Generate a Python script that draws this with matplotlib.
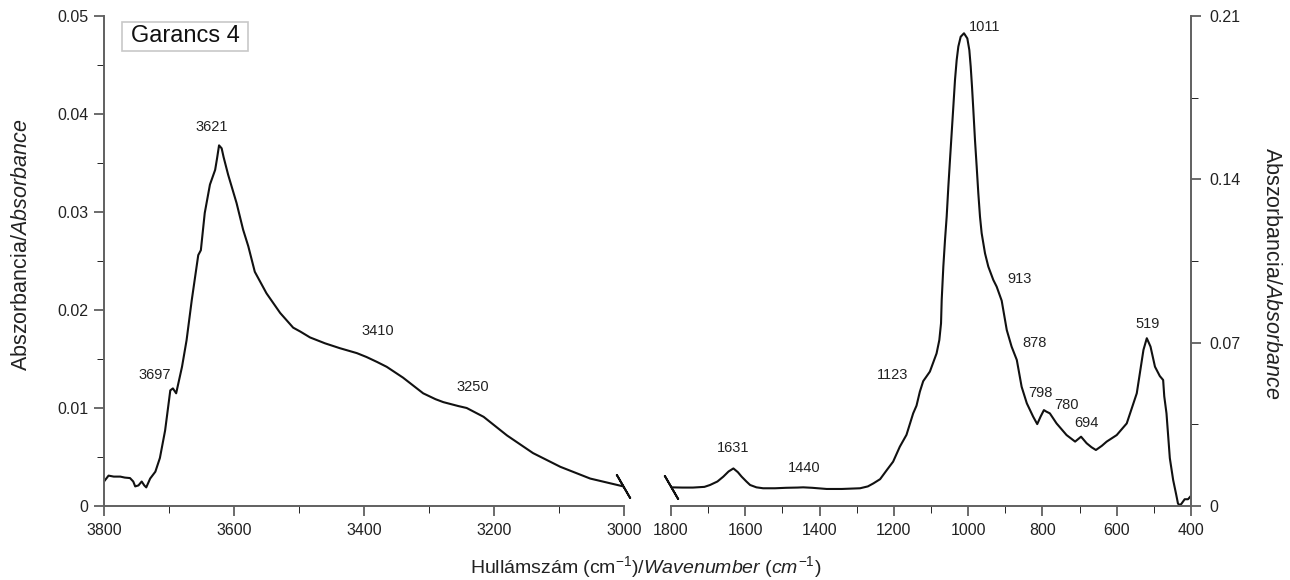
import matplotlib
matplotlib.use("Agg")
import matplotlib.pyplot as plt
from matplotlib.patches import Rectangle
from matplotlib.ticker import MultipleLocator, FixedLocator, FuncFormatter

plt.rcParams['font.family'] = ['Liberation Sans', 'DejaVu Sans']
plt.rcParams['mathtext.fontset'] = 'custom'
plt.rcParams['mathtext.rm'] = 'Liberation Sans'
plt.rcParams['mathtext.it'] = 'Liberation Sans:italic'

# ---------------- data ----------------
# High wavenumber region (left panel, left axis)
wn_high = [3800, 3793, 3785, 3775, 3768, 3760, 3755, 3752, 3747, 3742, 3738, 3735,
           3729, 3721, 3714, 3706, 3698, 3694, 3689, 3680, 3673, 3665, 3655, 3651,
           3645, 3637, 3629, 3626, 3623, 3619, 3616, 3609, 3596, 3586, 3578, 3568,
           3550, 3529, 3509, 3498, 3483, 3460, 3437, 3411, 3396, 3380, 3365, 3340,
           3309, 3290, 3278, 3255, 3242, 3216, 3180, 3140, 3098, 3052, 3001]
abs_high = [0.0025, 0.0031, 0.0030, 0.0030, 0.0029, 0.00285, 0.0025, 0.0020, 0.0021,
            0.0025, 0.0021, 0.0019, 0.0028, 0.0035, 0.0049, 0.0077, 0.0118, 0.0120,
            0.0115, 0.0142, 0.0169, 0.0210, 0.0256, 0.0261, 0.0299, 0.0328, 0.0343,
            0.0355, 0.0368, 0.0365, 0.0356, 0.0338, 0.0309, 0.0282, 0.0265, 0.0239,
            0.0217, 0.0197, 0.0182, 0.0178, 0.0172, 0.0166, 0.0161, 0.0156, 0.0152,
            0.0147, 0.0142, 0.0131, 0.0115, 0.0109, 0.0106, 0.0102, 0.0100, 0.0091,
            0.0072, 0.0054, 0.0040, 0.0028, 0.0020]

# Low wavenumber region (right panel, right axis)
wn_low = [1800, 1770, 1741, 1710, 1695, 1675, 1659, 1645, 1632, 1620, 1610, 1597,
          1587, 1570, 1552, 1520, 1490, 1460, 1444, 1420, 1381, 1340, 1291, 1270,
          1255, 1237, 1219, 1202, 1184, 1166, 1148, 1139, 1130, 1121, 1103, 1085,
          1077.6, 1073, 1071.2, 1066.8, 1062.3, 1057.8, 1053.3, 1048.9, 1044.4,
          1039.9, 1035.4, 1030.9, 1026.4, 1020.1, 1011.2, 1002.2, 996.8, 993.1,
          989.6, 986.0, 981.6, 977.0, 972.6, 968.1, 963.6, 954.6, 945.7, 932.3,
          923.2, 909.7, 896, 883, 869, 856, 842, 825, 814,
          805, 796, 790, 780, 762, 735, 712, 696, 681, 668, 656, 640, 627, 600,
          573, 546, 528, 519, 509, 497, 484, 475, 472, 466, 457, 448, 440, 435,
          430, 426, 417, 408, 402]
abs_low = [0.0080, 0.0079, 0.0079, 0.0082, 0.0090, 0.0105, 0.0126, 0.0148, 0.0161,
           0.0145, 0.0126, 0.0105, 0.0090, 0.0080, 0.0076, 0.0076, 0.0078, 0.0079,
           0.0080, 0.0078, 0.0073, 0.0073, 0.0076, 0.0084, 0.0097, 0.0115, 0.0154,
           0.0190, 0.0254, 0.0305, 0.0397, 0.0430, 0.0490, 0.0535, 0.0576, 0.0654,
           0.0711, 0.0783, 0.0883, 0.1026, 0.1140, 0.1240, 0.1369, 0.1483, 0.1597,
           0.1711, 0.1826, 0.1911, 0.1969, 0.2011, 0.2026, 0.2004, 0.1954, 0.1883,
           0.1797, 0.1697, 0.1569, 0.1454, 0.1340, 0.1240, 0.1169, 0.1083, 0.1026,
           0.0969, 0.0940, 0.0880, 0.0754, 0.0683, 0.0626, 0.0511, 0.0440, 0.0383,
           0.0351, 0.0383,
           0.0411, 0.0405, 0.0397, 0.0354, 0.0304, 0.0276, 0.0297, 0.0269, 0.0252,
           0.0240, 0.0258, 0.0276, 0.0304, 0.0354, 0.0483, 0.0669, 0.0719, 0.0683,
           0.0597, 0.0557, 0.0540, 0.0470, 0.0397, 0.0205, 0.0111, 0.0050, 0.0010,
           0.0004, 0.0009, 0.0029, 0.0029, 0.0040]

# Peak labels: text, label x (wavenumber), label y (absorbance)
labels_high = ["3697", "3621", "3410", "3250"]
labx_high = [3721.5, 3633.8, 3378.9, 3232.8]
laby_high = [0.01337, 0.0387, 0.01789, 0.01211]

labels_low = ["1631", "1440", "1123", "1011", "913", "878", "798", "780", "694", "519"]
labx_low = [1633.9, 1441.1, 1202.3, 954.6, 860.4, 821.9, 804.7, 736.5, 680.8, 516.6]
laby_low = [0.02499, 0.01616, 0.05614, 0.2054, 0.09716, 0.06999, 0.0483, 0.04329, 0.0357, 0.07788]

xticks_high = [3800, 3600, 3400, 3200, 3000]
xticks_low = [1800, 1600, 1400, 1200, 1000, 800, 600, 400]
yticks_left = [0, 0.01, 0.02, 0.03, 0.04, 0.05]
yticks_right = [0, 0.07, 0.14, 0.21]

# ---------------- figure ----------------
W, H = 1290, 580
fig = plt.figure(figsize=(W / 100, H / 100), dpi=100)
spine_col = '#606060'
line_col = '#111111'
txt_col = '#222222'

def px_axes(x0, x1, y_top, y_bot):
    return [x0 / W, 1 - y_bot / H, (x1 - x0) / W, (y_bot - y_top) / H]

axL = fig.add_axes(px_axes(104, 624, 16, 506))
axR = fig.add_axes(px_axes(671, 1191, 16, 506))

for ax in (axL, axR):
    for s in ax.spines.values():
        s.set_color(spine_col)
        s.set_linewidth(1.4)
    ax.spines['top'].set_visible(False)
    ax.tick_params(colors=spine_col, labelcolor=txt_col, labelsize=11.5,
                   width=1.3, direction='out')
    ax.tick_params(which='major', length=7)
    ax.tick_params(which='minor', length=5)
    ax.tick_params(axis='x', which='major', pad=5)

# Left panel
axL.plot(wn_high, abs_high, color=line_col, lw=1.5)
axL.set_xlim(3800, 3000)
axL.set_ylim(0, 0.05)
axL.spines['right'].set_visible(False)
axL.xaxis.set_major_locator(FixedLocator(xticks_high))
axL.xaxis.set_minor_locator(MultipleLocator(100))
axL.yaxis.set_major_locator(FixedLocator(yticks_left))
axL.yaxis.set_minor_locator(MultipleLocator(0.005))
axL.yaxis.set_major_formatter(FuncFormatter(lambda v, p: '0' if abs(v) < 1e-12 else f'{v:.2f}'))
axL.tick_params(axis='y', pad=4)

# Right panel
axR.plot(wn_low, abs_low, color=line_col, lw=1.5)
axR.set_xlim(1800, 400)
axR.set_ylim(0, 0.21)
axR.spines['left'].set_visible(False)
axR.yaxis.tick_right()
axR.xaxis.set_major_locator(FixedLocator(xticks_low))
axR.xaxis.set_minor_locator(MultipleLocator(100))
axR.yaxis.set_major_locator(FixedLocator(yticks_right))
axR.yaxis.set_minor_locator(MultipleLocator(0.035))
axR.yaxis.set_major_formatter(FuncFormatter(lambda v, p: '0' if abs(v) < 1e-12 else f'{v:.2f}'))
axR.tick_params(axis='y', pad=6)

# Break marks at the inner ends of the two curves
axL.plot([wn_high[-1]], [abs_high[-1]], marker=(2, 2, 30), ms=20, mew=1.4,
         color=line_col, clip_on=False)
axR.plot([wn_low[0]], [abs_low[0]], marker=(2, 2, 30), ms=20, mew=1.4,
         color=line_col, clip_on=False)

# Peak labels
for t, x, y in zip(labels_high, labx_high, laby_high):
    axL.text(x, y, t, ha='center', va='center', fontsize=10.5, color=txt_col)
for t, x, y in zip(labels_low, labx_low, laby_low):
    axR.text(x, y, t, ha='center', va='center', fontsize=10.5, color=txt_col,
             clip_on=False)

# Sample name box
axL.add_patch(Rectangle((0.0346, 0.9286), 0.2423, 0.0592, transform=axL.transAxes,
                        fc='white', ec='#c8c8c8', lw=1.2, clip_on=False, zorder=3))
axL.text(0.0519, 0.9582, 'Garancs 4', transform=axL.transAxes, ha='left', va='center',
         fontsize=17, color='#111111', zorder=4)

# Axis labels
fig.text(22 / W, 1 - 245 / H, r'Abszorbancia/$\mathit{Absorbance}$', rotation=90,
         ha='center', va='center', fontsize=15.5, color=txt_col)
fig.text(1272 / W, 1 - 273 / H, r'Abszorbancia/$\mathit{Absorbance}$', rotation=270,
         ha='center', va='center', fontsize=15.5, color=txt_col)
fig.text(646 / W, 1 - 567 / H,
         r'Hullámszám (cm$^{\mathregular{-1}}$)/$\mathit{Wavenumber\ (cm^{-1})}$',
         ha='center', va='center', fontsize=14, color=txt_col)

fig.savefig('out.png', dpi=100, facecolor='white')
